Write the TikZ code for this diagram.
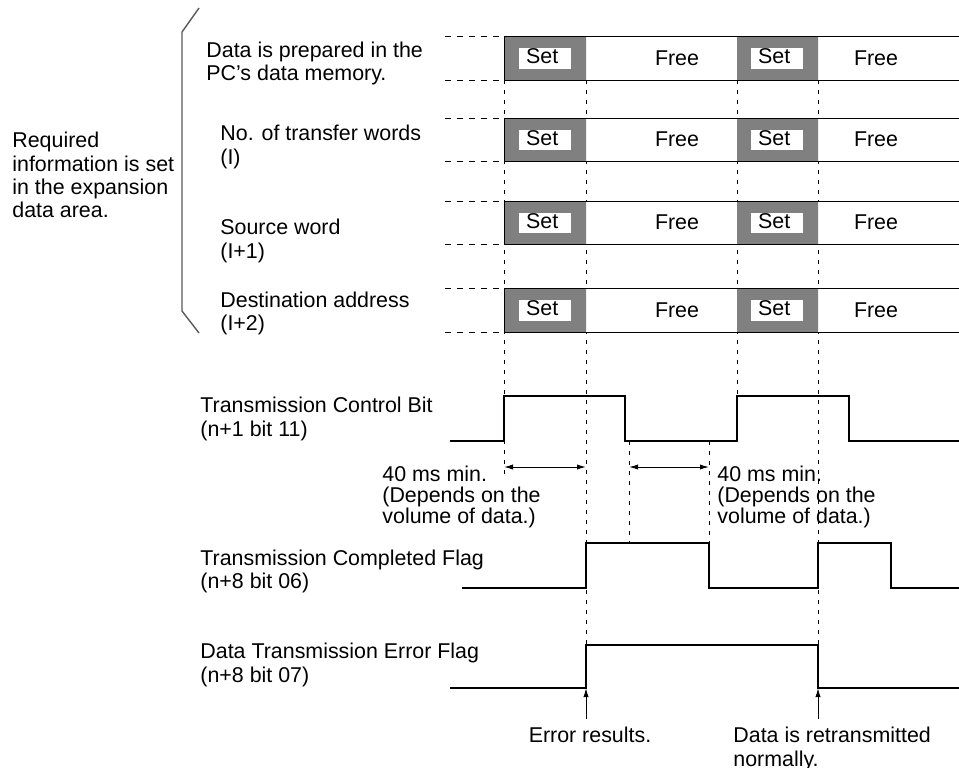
\documentclass[tikz,border=0pt]{standalone}
\usepackage{fontspec}
\setmainfont{Liberation Sans}
\usetikzlibrary{positioning, arrows.meta, arrows}

\begin{document}
\begin{tikzpicture}[x=0.5pt,y=-0.5pt,>={Latex[length=4.5pt,width=2.6pt]},
    every node/.style={inner sep=0pt,align=left,font=\fontsize{10.7}{11.6}\selectfont},
    guide/.style={dash pattern=on 2pt off 3pt,line width=0.4pt},
    wave/.style={line width=0.6pt},
    setlabel/.style={fill=white,inner xsep=3.6pt,inner ysep=0pt,text width=18.8pt,text height=7.7pt,text depth=2.7pt},
    small/.style={font=\fontsize{10.7}{10.7}\selectfont}]

    \useasboundingbox (0,0) rectangle (959,767);

    \draw[line width=0.7pt,black!65] (199,8) -- (182,32) -- (182,311) -- (199,333);
    \node[anchor=west] (need) at (12,175) {Required\\information is set\\in the expansion\\data area.};

    \draw[guide] (504,80) -- (504,475);
    \draw[guide] (586,80) -- (586,645);
    \draw[guide] (737,80) -- (737,396);
    \draw[guide] (818,80) -- (818,688);
    \draw[guide] (629,441) -- (629,543);
    \draw[guide] (709,441) -- (709,543);

    \foreach \ya/\yb [count=\i] in {36/80,118/161,201/244,288/332} {
        \fill[white] (504,\ya) rectangle (959,\yb);
        \fill[gray] (504,\ya) rectangle (586,\yb) (737,\ya) rectangle (818,\yb);
        \draw[line width=0.5pt] (959,\ya) -- (504,\ya) -- (504,\yb) -- (959,\yb);
        \draw[dash pattern=on 3pt off 3pt,line width=0.4pt] (445,\ya) -- (504,\ya) (445,\yb) -- (504,\yb);
        \node[setlabel] (set\i) at (545,{(\ya+\yb)/2+0.5}) {Set};
        \node[setlabel] (reset\i) at (777,{(\ya+\yb)/2+0.5}) {Set};
        \node (free\i) at (677,{(\ya+\yb)/2}) {Free};
        \node (refree\i) at (876,{(\ya+\yb)/2}) {Free};
    }

    \node[anchor=west] (pcmem) at (206,63.5) {Data is prepared in the\\PC’s data memory.};
    \node[anchor=west] (words) at (220,147) {No. of transfer words\\(I)};
    \node[anchor=west] (source) at (220,241) {Source word\\(I+1)};
    \node[anchor=west] (dest) at (220,313.5) {Destination address\\(I+2)};

    \node[anchor=west] (tcb) at (200,419) {Transmission Control Bit\\(n+1 bit 11)};
    \draw[wave] (450,441) -- (504,441) -- (504,396) -- (625,396) -- (625,441) -- (737,441)
        -- (737,396) -- (849,396) -- (849,441) -- (959,441);

    \node[anchor=west] (tcf) at (200,571.5) {Transmission Completed Flag\\(n+8 bit 06)};
    \draw[wave] (462,588) -- (586,588) -- (586,543) -- (709,543) -- (709,588) -- (818,588)
        -- (818,543) -- (891,543) -- (891,588) -- (959,588);

    \node[anchor=west] (err) at (200,665) {Data Transmission Error Flag\\(n+8 bit 07)};
    \draw[wave] (450,688) -- (586,688) -- (586,645) -- (818,645) -- (818,688) -- (959,688);

    \coordinate (on1) at (504,467);
    \coordinate (done1) at (586,467);
    \coordinate (off1) at (629,467);
    \coordinate (off2) at (709,467);
    \path[<->,line width=0.5pt] (on1) edge (done1) (off1) edge (off2);
    \node[anchor=west,small] (gap1) at (382,497) {40 ms min.\\(Depends on the\\volume of data.)};
    \node[anchor=west,small] (gap2) at (717,497) {40 ms min.\\(Depends on the\\volume of data.)};

    \coordinate (fail) at (586,688);
    \coordinate (failtail) at (586,719);
    \coordinate (retry) at (818,688);
    \coordinate (retrytail) at (818,719);
    \path[->,line width=0.5pt] (failtail) edge (fail) (retrytail) edge (retry);
    \node (failtxt) at (590,735) {Error results.};
    \node[anchor=north west] (retrytxt) at (733,727) {Data is retransmitted\\normally.};
\end{tikzpicture}
\end{document}
